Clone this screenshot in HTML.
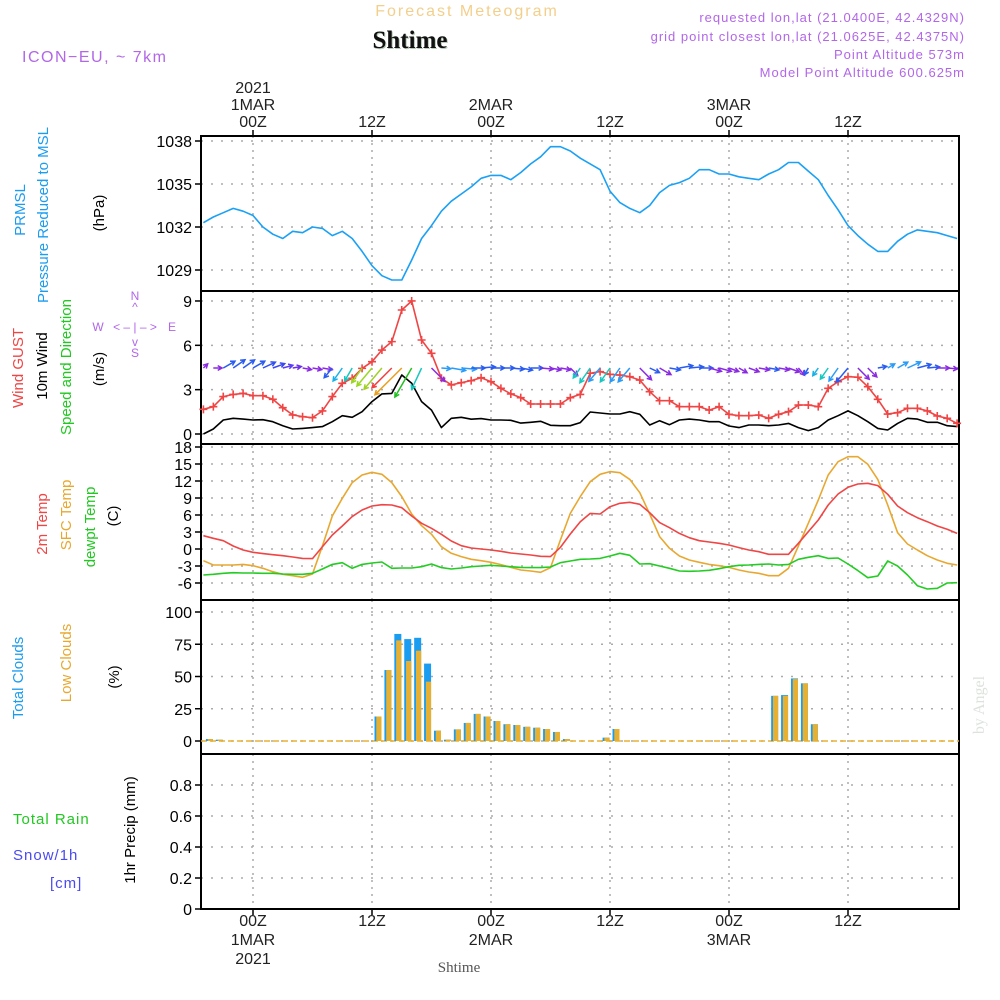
<!DOCTYPE html>
<html><head><meta charset="utf-8">
<style>
body{margin:0;background:#fff;}
svg{display:block;font-family:"Liberation Sans",sans-serif;}
</style></head>
<body>
<svg id="chart" width="1000" height="1000" viewBox="0 0 1000 1000" xmlns="http://www.w3.org/2000/svg">
<defs><clipPath id="windclip"><rect x="202" y="292" width="756" height="151"/></clipPath></defs>
<rect width="1000" height="1000" fill="#fff"/>
<text x="467" y="16" text-anchor="middle" font-size="16" letter-spacing="2" fill="#f3cf8c">Forecast Meteogram</text>
<text x="411" y="49" text-anchor="middle" font-size="25" font-weight="bold" font-family="Liberation Serif, serif" fill="#b8ccb8">Shtime</text>
<text x="410" y="48" text-anchor="middle" font-size="25" font-weight="bold" font-family="Liberation Serif, serif" fill="#111">Shtime</text>
<text x="22" y="62" font-size="16" letter-spacing="1.5" fill="#b266e8">ICON−EU, ~ 7km</text>
<g font-size="13" letter-spacing="1" fill="#b266e8" text-anchor="end">
<text x="965" y="22">requested lon,lat (21.0400E, 42.4329N)</text>
<text x="965" y="41">grid point closest lon,lat (21.0625E, 42.4375N)</text>
<text x="965" y="59">Point Altitude 573m</text>
<text x="965" y="77">Model Point Altitude 600.625m</text>
</g>
<g font-size="15">
<text transform="translate(25,210) rotate(-90)" text-anchor="middle" fill="#1a9cf0">PRMSL</text>
<text transform="translate(48,215) rotate(-90)" text-anchor="middle" fill="#1a9cf0">Pressure Reduced to MSL</text>
<text transform="translate(104,213) rotate(-90)" text-anchor="middle" fill="#000">(hPa)</text>
<text transform="translate(23,368) rotate(-90)" text-anchor="middle" fill="#f04545">Wind GUST</text>
<text transform="translate(47,366) rotate(-90)" text-anchor="middle" fill="#000">10m Wind</text>
<text transform="translate(71,367) rotate(-90)" text-anchor="middle" fill="#22c822">Speed and Direction</text>
<text transform="translate(104,369) rotate(-90)" text-anchor="middle" fill="#000">(m/s)</text>
<text transform="translate(47,524) rotate(-90)" text-anchor="middle" fill="#f04545">2m Temp</text>
<text transform="translate(71,515) rotate(-90)" text-anchor="middle" fill="#e8a830">SFC Temp</text>
<text transform="translate(95,527) rotate(-90)" text-anchor="middle" fill="#22c822">dewpt Temp</text>
<text transform="translate(118,516) rotate(-90)" text-anchor="middle" fill="#000">(C)</text>
<text transform="translate(23,678) rotate(-90)" text-anchor="middle" fill="#1a9cf0">Total Clouds</text>
<text transform="translate(71,663) rotate(-90)" text-anchor="middle" fill="#e8a830">Low Clouds</text>
<text transform="translate(119,677) rotate(-90)" text-anchor="middle" fill="#000">(%)</text>
<text x="13" y="824" fill="#22c822" letter-spacing="1">Total  Rain</text>
<text x="13" y="860" fill="#4a4af0" letter-spacing="1">Snow/1h</text>
<text x="50" y="888" fill="#4a4af0" letter-spacing="1">[cm]</text>
<text transform="translate(135,830) rotate(-90)" text-anchor="middle" fill="#000">1hr Precip (mm)</text>
</g>
<g font-size="12" fill="#b266e8" text-anchor="middle">
<text x="135" y="300">N</text><text x="135" y="311">^</text>
<text x="98" y="331">W</text><text x="172" y="331">E</text>
<text x="135" y="331">&lt; – | – &gt;</text>
<text x="135" y="346">v</text><text x="135" y="357">S</text>
</g>
<text transform="translate(984,705) rotate(-90)" text-anchor="middle" font-size="16" font-family="Liberation Serif, serif" fill="#dde2dd">by Angel</text>
<text x="459" y="972" text-anchor="middle" font-size="15" font-family="Liberation Serif, serif" fill="#555">Shtime</text>
<g id="plot"></g>
</svg>
<script>
const hoursStart = -5;
const pressure = [1032.3,1032.7,1033.0,1033.3,1033.1,1032.8,1032.0,1031.5,1031.2,1031.7,1031.6,1032.0,1031.9,1031.4,1031.7,1031.2,1030.3,1029.3,1028.6,1028.3,1028.3,1029.7,1031.2,1032.1,1033.1,1033.8,1034.3,1034.8,1035.4,1035.6,1035.6,1035.3,1035.8,1036.4,1036.9,1037.6,1037.6,1037.3,1036.8,1036.4,
1036.0,1034.5,1033.7,1033.3,1033.0,1033.5,1034.4,1034.9,1035.1,1035.4,1036.0,1036.0,1035.7,1035.7,1035.5,1035.4,1035.3,1035.7,1036.0,1036.5,1036.5,1035.9,1035.3,1034.2,1033.2,1032.1,1031.4,1030.8,1030.3,1030.3,1031.0,1031.5,1031.8,1031.7,1031.6,1031.4,1031.2];
const gust = [1.67,1.85,2.53,2.68,2.75,2.59,2.59,2.35,1.78,1.29,1.17,1.10,1.56,2.53,3.43,3.77,4.44,4.89,5.68,6.25,8.39,9.0,6.36,5.46,3.77,3.32,3.47,3.61,3.81,3.54,3.09,2.71,2.46,2.03,2.03,2.03,2.03,2.46,2.68,4.11,
4.22,4.04,3.99,3.88,3.65,2.86,2.25,2.25,1.85,1.85,1.85,1.62,1.85,1.33,1.24,1.24,1.28,1.06,1.33,1.51,1.96,1.96,1.85,3.09,3.54,3.88,3.84,3.20,2.35,1.35,1.44,1.74,1.74,1.56,1.22,1.06,0.72];
const windSpeed = [0,0.34,0.95,1.06,1.01,0.95,0.97,0.83,0.56,0.34,0.38,0.43,0.50,0.83,1.24,1.13,1.51,2.19,2.71,2.75,3.99,3.43,2.19,1.62,0.43,1.06,1.13,1.0,1.04,0.95,0.95,0.93,0.74,0.79,0.86,0.59,0.56,0.56,0.77,1.49,
1.42,1.35,1.35,1.51,1.33,0.61,0.90,0.63,0.95,1.01,0.95,0.83,0.83,0.54,0.43,0.61,0.61,0.56,0.61,0.72,0.43,0.23,0.43,0.95,1.24,1.56,1.24,0.83,0.38,0.27,0.72,1.06,1.01,0.79,0.79,0.56,0.50];
const windDir = [45,90,60,55,55,60,65,70,75,80,100,100,100,220,215,210,215,220,220,225,225,210,205,135,95,100,95,90,85,90,90,95,100,90,95,100,100,135,215,215,
220,215,215,220,135,115,120,100,80,85,90,105,105,110,120,110,100,100,100,110,140,210,215,215,215,220,135,135,80,60,60,65,75,85,90,95,100];
const windColor = ["#8a2be2","#8a2be2","#2a5cf0","#2a5cf0","#2a5cf0","#2a5cf0","#3050f0","#3a48f0","#5a3ef0","#6a30e8","#8a2be2","#8a2be2","#8a2be2","#2a5cf0","#18b0e8","#18c8c0","#9ad820","#9ad820","#a0d020","#f04040","#e8a020","#22c022","#18c8c0","#8a2be2","#2a9cf8","#2a9cf8","#2a9cf8","#2a5cf0","#2a5cf0","#2a5cf0","#2a5cf0","#2a5cf0","#2a5cf0","#2a5cf0","#8a2be2","#8a2be2","#8a2be2","#8a2be2","#18c8c0","#18c8c0",
"#2a9cf8","#18c8c0","#2a9cf8","#2a9cf8","#8a2be2","#2a5cf0","#8a2be2","#2a5cf0","#2a5cf0","#2a5cf0","#2a5cf0","#8a2be2","#8a2be2","#8a2be2","#8a2be2","#8a2be2","#8a2be2","#2a5cf0","#8a2be2","#8a2be2","#8a2be2","#2a5cf0","#18b0e8","#18c8c0","#2a9cf8","#2a5cf0","#8a2be2","#8a2be2","#2a5cf0","#2a9cf8","#2a9cf8","#2a9cf8","#2a5cf0","#2a5cf0","#8a2be2","#8a2be2","#8a2be2"];
const temp2m = [2.35,1.88,1.47,0.53,-0.18,-0.59,-0.82,-1.0,-1.18,-1.41,-1.65,-1.7,0.41,2.47,4.06,5.71,6.88,7.59,7.82,7.76,7.29,5.82,4.53,3.65,2.59,1.41,0.59,0.18,0,-0.18,-0.41,-0.71,-0.88,-1.06,-1.29,-1.35,0.29,2.65,4.82,6.29,
6.18,7.47,8.06,8.24,7.88,6.41,4.65,3.76,2.76,2.0,1.47,1.24,1.0,0.71,0.24,-0.18,-0.47,-0.94,-0.94,-0.94,1.0,3.06,5.12,7.76,9.71,10.88,11.47,11.59,11.18,9.65,7.59,6.41,5.53,4.82,4.06,3.47,2.76];
const tempSfc = [-2.06,-2.82,-2.82,-2.82,-2.71,-2.94,-3.41,-4.0,-4.47,-4.71,-5.0,-4.41,0.53,5.82,8.94,11.71,13.06,13.53,13.18,11.71,9.24,6.18,4.12,2.59,0.41,-0.76,-1.35,-1.82,-2.06,-2.35,-2.76,-3.24,-3.71,-3.88,-4.12,-3.29,1.59,6.29,9.24,11.88,
13.18,13.65,13.47,12.29,9.94,6.18,2.18,0.12,-1.24,-1.94,-2.35,-2.71,-2.94,-3.24,-3.71,-4.06,-4.29,-4.71,-4.71,-3.41,0.53,4.53,8.65,13.06,15.41,16.29,16.29,14.94,12.29,7.76,2.88,0.88,-0.18,-1.18,-1.94,-2.53,-2.82];
const dewpt = [-4.59,-4.47,-4.29,-4.18,-4.24,-4.24,-4.29,-4.29,-4.41,-4.47,-4.47,-4.29,-3.53,-2.71,-2.41,-3.41,-2.71,-2.47,-2.29,-3.41,-3.35,-3.35,-3.12,-2.65,-3.29,-3.53,-3.35,-3.12,-3.0,-2.88,-3.0,-3.12,-3.24,-3.29,-3.29,-3.18,-2.41,-2.12,-1.82,-1.76,
-1.65,-1.24,-0.76,-1.12,-2.65,-2.59,-3.0,-3.41,-3.88,-3.94,-3.88,-3.76,-3.47,-3.12,-2.88,-2.82,-2.71,-2.65,-2.82,-2.71,-1.82,-1.47,-1.18,-1.65,-1.59,-2.65,-3.82,-5.06,-4.76,-2.12,-3.0,-4.59,-6.47,-7.06,-6.94,-6.0,-5.94];
const cloudHours = [-5,-4,12,13,14,15,16,17,18,19,20,21,22,23,24,25,26,27,28,29,30,31,35,36,52,53,54,55,56];
const totalCloud = [1.5,1,19,55,83,79,80,60,8,1,9,14,21,19,15.5,13,12.4,11,10.3,9.3,7,1.5,2.6,9.3,35,35.6,48.5,44.7,13];
const lowCloud = [1.5,1,19,55,78,62,70,46,8,1,9,14,21,19,15.5,13,12.4,11,10.3,9.3,7,1.5,2.6,9.3,35,35,48,44.7,13];
const precipTotal = new Array(77).fill(0);
const pressureTicks = [1029,1032,1035,1038];
const windTicks = [0,3,6,9];
const tempTicks = [-6,-3,0,3,6,9,12,15,18];
const cloudTicks = [0,25,50,75,100];
const precipTicks = [0,0.2,0.4,0.6,0.8];
const precipTickLabels = ["0","0.2","0.4","0.6","0.8"];
const majorHours = [0,12,24,36,48,60];
const topLabelsL1 = ["2021","","","","",""];
const topLabelsL2 = ["1MAR","","2MAR","","3MAR",""];
const topLabelsL3 = ["00Z","12Z","00Z","12Z","00Z","12Z"];
const botLabelsL2 = ["1MAR","","2MAR","","3MAR",""];
const botLabelsL3 = ["2021","","","","",""];

const NS = "http://www.w3.org/2000/svg";
const plot = document.getElementById("plot");
const L = 201, R = 959;
function X(h){ return 253 + h*119/12; }
const yP = v => 141 + (1038 - v)*43/3;
const yW = v => 434 - v*14.78;
const yT = v => 549 - v*17/3;
const yC = v => 741 - v*1.29;
const yR = v => 909 - v*155;
function el(tag, attrs, parent){
  const e = document.createElementNS(NS, tag);
  for (const k in attrs) e.setAttribute(k, attrs[k]);
  (parent||plot).appendChild(e);
  return e;
}
function txt(s, x, y, attrs){
  const e = el("text", Object.assign({x:x, y:y}, attrs||{}));
  e.textContent = s;
  return e;
}
const panels = [
  {name:"pressure", top:136, bot:291, ticks:pressureTicks, labels:pressureTicks.map(String), y:yP},
  {name:"wind", top:291, bot:444, ticks:windTicks, labels:windTicks.map(String), y:yW},
  {name:"temperature", top:444, bot:600, ticks:tempTicks, labels:tempTicks.map(String), y:yT},
  {name:"clouds", top:600, bot:754, ticks:cloudTicks, labels:cloudTicks.map(String), y:yC},
  {name:"precip", top:754, bot:909, ticks:precipTicks, labels:precipTickLabels, y:yR}
];
panels.forEach(p => {
  const g = el("g", {});
  
  
  majorHours.forEach(h => {
    const v = el("line", {x1:X(h), x2:X(h), y1:p.top, y2:p.bot, stroke:"#aaa", "stroke-width":1.5, "stroke-dasharray":"2,5"}, g);
    
    
  });
  p.ticks.forEach((t, i) => {
    const yy = p.y(t);
    const gl = el("line", {x1:L, x2:R, y1:yy, y2:yy, stroke:"#aaa", "stroke-width":1.5, "stroke-dasharray":"2,8"}, g);
    
    
    el("line", {x1:L-6, x2:L, y1:yy, y2:yy, stroke:"#000", "stroke-width":1.5}, g);
    const lb = txt(p.labels[i], L-9, yy+6, {"text-anchor":"end", "font-size":16, fill:"#000"});
    
    
    g.appendChild(lb);
  });
  el("rect", {x:L, y:p.top, width:R-L, height:p.bot-p.top, fill:"none", stroke:"#000", "stroke-width":2}, g);
});
majorHours.forEach((h, i) => {
  el("line", {x1:X(h), x2:X(h), y1:130, y2:136, stroke:"#000", "stroke-width":1.5});
  const t3 = txt(topLabelsL3[i], X(h), 127, {"text-anchor":"middle", "font-size":16, fill:"#222"});
  
  
  if (topLabelsL2[i]) { const t2 = txt(topLabelsL2[i], X(h), 110, {"text-anchor":"middle", "font-size":16, fill:"#222"});
      }
  if (topLabelsL1[i]) { const t1 = txt(topLabelsL1[i], X(h), 93, {"text-anchor":"middle", "font-size":16, fill:"#222"});
      }
  el("line", {x1:X(h), x2:X(h), y1:909, y2:915, stroke:"#000", "stroke-width":1.5});
  const b1 = txt(topLabelsL3[i], X(h), 926, {"text-anchor":"middle", "font-size":16, fill:"#222"});
  
  
  if (botLabelsL2[i]) { const b2 = txt(botLabelsL2[i], X(h), 945, {"text-anchor":"middle", "font-size":16, fill:"#222"});
      }
  if (botLabelsL3[i]) { const b3 = txt(botLabelsL3[i], X(h), 964, {"text-anchor":"middle", "font-size":16, fill:"#222"});
      }
});
function series(arr, yf, color, name){
  const pts = arr.map((v, i) => X(hoursStart + i).toFixed(1) + "," + yf(v).toFixed(1)).join(" ");
  const pl = el("polyline", {points:pts, fill:"none", stroke:color, "stroke-width":1.6, "stroke-linejoin":"round"});
  
  
  return pl;
}
series(pressure, yP, "#1aa0f5", "pressure-line");
series(windSpeed, yW, "#000", "wind-speed-line");
series(gust, yW, "#f04545", "gust-line");
gust.forEach((v, i) => {
  const x = X(hoursStart + i), y = yW(v);
  const m = el("path", {d:`M${x-4},${y}H${x+4}M${x},${y-4}V${y+4}`, stroke:"#f04545", "stroke-width":1.6});
  
  
});
const arrowGroup = el("g", {"clip-path":"url(#windclip)"});


windDir.forEach((d, i) => {
  const x0 = X(hoursStart + i), y0 = 368;
  const len = Math.min(6 + windSpeed[i]*8, 40);
  const a = d*Math.PI/180;
  const x1 = x0 + Math.sin(a)*len, y1 = y0 - Math.cos(a)*len;
  const hx1 = x1 - Math.sin(a - 0.5)*5, hy1 = y1 + Math.cos(a - 0.5)*5;
  const hx2 = x1 - Math.sin(a + 0.5)*5, hy2 = y1 + Math.cos(a + 0.5)*5;
  const ar = el("path", {d:`M${x0.toFixed(1)},${y0}L${x1.toFixed(1)},${y1.toFixed(1)}M${hx1.toFixed(1)},${hy1.toFixed(1)}L${x1.toFixed(1)},${y1.toFixed(1)}L${hx2.toFixed(1)},${hy2.toFixed(1)}`, stroke:windColor[i], "stroke-width":1.5, fill:"none"}, arrowGroup);
  
  
});
series(tempSfc, yT, "#e8a830", "sfc-temp-line");
series(temp2m, yT, "#f04545", "temp-2m-line");
series(dewpt, yT, "#22cc22", "dewpoint-line");
const base = el("line", {x1:L, x2:R, y1:741, y2:741, stroke:"#e8b030", "stroke-width":1.5, "stroke-dasharray":"6,3"});


cloudHours.forEach((h, i) => {
  const x = X(h) + 2.5;
  const b = el("rect", {x:x, y:yC(totalCloud[i]), width:7, height:741 - yC(totalCloud[i]), fill:"#1a9cf0"});
  
  
  const o = el("rect", {x:x+1.8, y:yC(lowCloud[i]), width:5.2, height:741 - yC(lowCloud[i]), fill:"#e8b030"});
  
  
});
const pz = el("polyline", {points:precipTotal.map((v,i)=>X(hoursStart+i).toFixed(1)+","+yR(v).toFixed(1)).join(" "), fill:"none", stroke:"#000", "stroke-width":2, "stroke-dasharray":"6,2"});


</script>
</body></html>
